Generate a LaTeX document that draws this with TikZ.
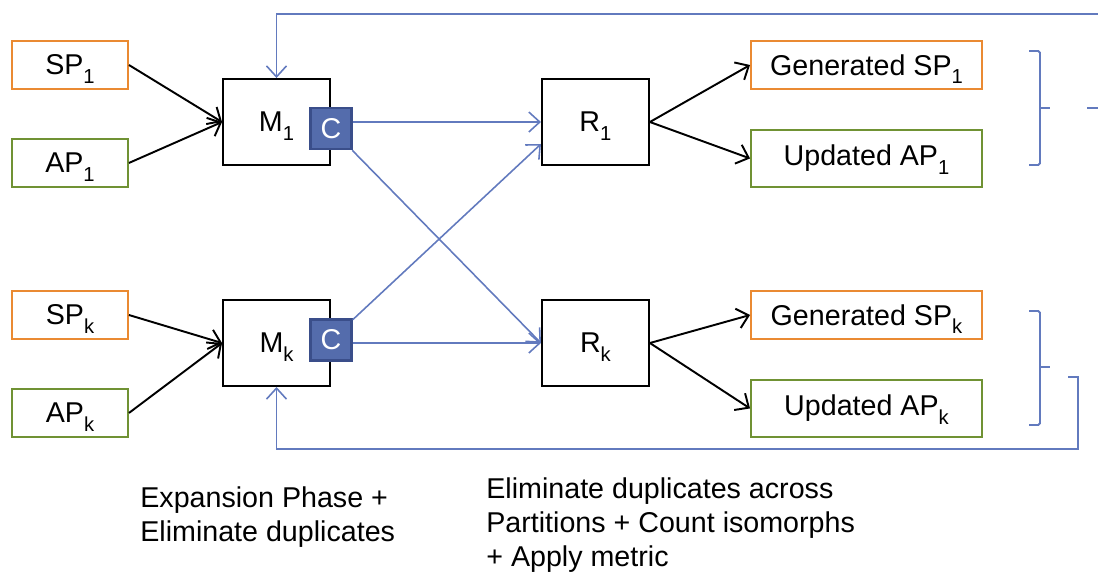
\documentclass[tikz,border=0pt]{standalone}
\usepackage{fontspec}
\setmainfont{Liberation Sans}
\usetikzlibrary{arrows.meta,positioning,calc}
\definecolor{sporange}{RGB}{234,138,50}
\definecolor{apgreen}{RGB}{112,146,52}
\definecolor{flowblue}{RGB}{98,122,190}
\definecolor{cfill}{RGB}{84,108,172}
\definecolor{cdraw}{RGB}{58,78,138}
\newcommand{\lowidx}[1]{\smash{\raisebox{-0.55ex}{\fontsize{11.5}{12}\selectfont #1}}}

\begin{document}
\begin{tikzpicture}[
    x=0.2mm, y=-0.2mm,
    font=\fontsize{16.3}{19.5}\selectfont,
    node distance=9.6mm and 42mm,
    block/.style={
        rectangle,
        draw,
        line width=1.1pt,
        align=center,
        inner sep=2pt
    },
    inbox/.style={block, minimum width=23.2mm, minimum height=9.6mm},
    outbox/.style={block, minimum width=46.2mm, minimum height=9.6mm},
    task/.style={block, draw=black, minimum width=21.4mm, minimum height=17.2mm},
    cbox/.style={
        rectangle,
        draw=cdraw,
        fill=cfill,
        line width=1.5pt,
        text=white,
        minimum width=8.2mm,
        minimum height=8.2mm,
        inner sep=0pt
    },
    arrow/.style={-{Straight Barb[length=2.2mm,width=4mm]}, line width=1.1pt, draw=black},
    flow/.style={-{Straight Barb[length=2.2mm,width=4mm]}, line width=0.9pt, draw=flowblue},
    brace/.style={line width=1.1pt, draw=flowblue, rounded corners=1pt},
    note/.style={align=left, inner sep=0pt, anchor=north west}
]
\useasboundingbox (0,0) rectangle (1098,573);

% Inputs
\node[inbox, draw=sporange] (sp1) at (70,65) {SP\lowidx{1}};
\node[inbox, draw=apgreen, below=of sp1] (ap1) {AP\lowidx{1}};
\node[inbox, draw=sporange] (spk) at (70,315) {SP\lowidx{k}};
\node[inbox, draw=apgreen, below=of spk] (apk) {AP\lowidx{k}};

% Mappers and reducers
\node[task] (m1) at (276.5,122) {M\lowidx{1}};
\node[task] (mk) at (276.5,343) {M\lowidx{k}};
\node[cbox] (c1) at ([yshift=-1.3mm]m1.east) {C};
\node[cbox] (ck) at ([yshift=0.6mm]mk.east) {C};
\node[task, right=of m1] (r1) {R\lowidx{1}};
\node[task, right=of mk] (rk) {R\lowidx{k}};

% Outputs
\node[outbox, draw=sporange] (gsp1) at (866.5,65) {Generated SP\lowidx{1}};
\node[outbox, draw=apgreen, minimum height=11.4mm, below=7.8mm of gsp1] (uap1) {Updated AP\lowidx{1}};
\node[outbox, draw=sporange] (gspk) at (866.5,315) {Generated SP\lowidx{k}};
\node[outbox, draw=apgreen, minimum height=11.4mm, below=7.8mm of gspk] (uapk) {Updated AP\lowidx{k}};

% Input arrows
\draw[arrow] (sp1.east) -- (m1.west);
\draw[arrow] (ap1.east) -- (m1.west);
\draw[arrow] (spk.east) -- (mk.west);
\draw[arrow] (apk.east) -- (mk.west);

% Shuffle
\draw[flow] (r1.west -| c1.east) -- (r1.west);
\draw[flow] (c1) -- (rk.west);
\draw[flow] (ck) -- ($(r1.west)!0.5!(r1.south west)$);
\draw[flow] (rk.west -| ck.east) -- (rk.west);

% Output arrows
\draw[arrow] (r1.east) -- (gsp1.west);
\draw[arrow] (r1.east) -- (uap1.west);
\draw[arrow] (rk.east) -- (gspk.west);
\draw[arrow] (rk.east) -- (uapk.west);

% Feedback
\coordinate (fbtop) at (1098,14);
\coordinate (fbbot) at (1068,377);
\draw[flow] (fbtop) -| (m1.north);
\draw[flow] (fbbot) -| (1078,449) -| (mk.south);

% Braces
\draw[brace] (1029,51) -- (1040,51) -- (1040,165) -- (1029,165);
\draw[brace] (1040,108) -- (1050,108);
\draw[brace] (1087,108) -- (1098,108);
\draw[brace] (1029,311) -- (1040,311) -- (1040,425) -- (1029,425);
\draw[brace] (1040,367) -- (1050,367);

% Phase notes
\node[note] (mapnote) at (140,486) {Expansion Phase +\\Eliminate duplicates};
\node[note] (rednote) at (486,477) {Eliminate duplicates across\\Partitions + Count isomorphs\\+ Apply metric};

\end{tikzpicture}
\end{document}
